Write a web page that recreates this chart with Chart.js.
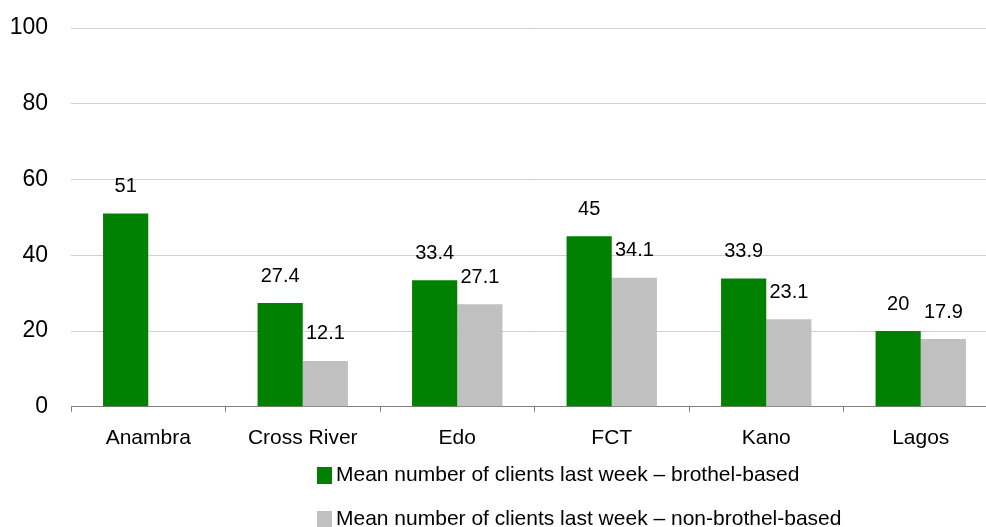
<!DOCTYPE html>
<html>
<head>
<meta charset="utf-8">
<script src="https://cdn.jsdelivr.net/npm/chart.js@4"></script>
<style>
  html, body { margin: 0; padding: 0; background: #fff; overflow: hidden; }
  #wrap { position: relative; width: 998px; height: 527px; }
</style>
</head>
<body>
<div id="wrap"><canvas id="c"></canvas></div>
<script>
const categories = ["Anambra", "Cross River", "Edo", "FCT", "Kano", "Lagos"];
const brothelBased = [51, 27.4, 33.4, 45, 33.9, 20];
const nonBrothelBased = [null, 12.1, 27.1, 34.1, 23.1, 17.9];
const seriesLabels = [
  "Mean number of clients last week \u2013 brothel-based",
  "Mean number of clients last week \u2013 non-brothel-based"
];
const yTicks = [0, 20, 40, 60, 80, 100];

const FONT = "'Liberation Sans', Arial, sans-serif";

const valueLabels = {
  id: 'valueLabels',
  afterDatasetsDraw(chart) {
    const ctx = chart.ctx;
    ctx.save();
    ctx.font = "20px " + FONT;
    ctx.fillStyle = "#000";
    ctx.textAlign = "center";
    ctx.textBaseline = "middle";
    chart.data.datasets.forEach((ds, i) => {
      const meta = chart.getDatasetMeta(i);
      meta.data.forEach((bar, j) => {
        const v = ds.data[j];
        if (v === null || v === undefined) return;
        ctx.fillText(String(v), bar.x, bar.y - 27);
      });
    });
    ctx.restore();
  }
};

const customLegend = {
  id: 'customLegend',
  afterDraw(chart) {
    const ctx = chart.ctx;
    ctx.save();
    ctx.font = "21px " + FONT;
    ctx.textBaseline = "middle";
    ctx.textAlign = "left";
    const rows = [475, 519];
    chart.data.datasets.forEach((ds, i) => {
      const y = rows[i];
      ctx.fillStyle = ds.backgroundColor;
      ctx.fillRect(317, y - 8, 15, 17);
      ctx.fillStyle = "#000";
      ctx.fillText(ds.label, 336, y);
    });
    ctx.restore();
  }
};

new Chart(document.getElementById('c'), {
  type: 'bar',
  data: {
    labels: categories,
    datasets: [
      { label: seriesLabels[0], data: brothelBased, backgroundColor: "#008000" },
      { label: seriesLabels[1], data: nonBrothelBased, backgroundColor: "#c0c0c0" }
    ]
  },
  options: {
    responsive: true,
    maintainAspectRatio: false,
    animation: false,
    devicePixelRatio: 1,
    layout: { padding: { top: 28, right: 0, bottom: 62, left: 0 } },
    datasets: { bar: { categoryPercentage: 0.585, barPercentage: 1.0 } },
    plugins: { legend: { display: false }, tooltip: { enabled: false } },
    scales: {
      x: {
        offset: true,
        grid: { display: true, offset: true, drawOnChartArea: false, drawTicks: true, tickLength: 5, color: "#808080" },
        border: { display: true, color: "#808080", width: 1 },
        ticks: { color: "#000", font: { family: FONT, size: 21 }, padding: 14, maxRotation: 0, autoSkip: false }
      },
      y: {
        min: 0, max: 100,
        afterBuildTicks(scale) { scale.ticks = yTicks.map(v => ({ value: v })); },
        afterFit(scale) { scale.width = 71; scale.paddingTop = 0; scale.paddingBottom = 0; },
        grid: { color: "#d0d0d0", drawTicks: false },
        border: { display: false },
        ticks: { color: "#000", font: { family: FONT, size: 23 }, padding: 23 }
      }
    }
  },
  plugins: [valueLabels, customLegend]
});
</script>
</body>
</html>
